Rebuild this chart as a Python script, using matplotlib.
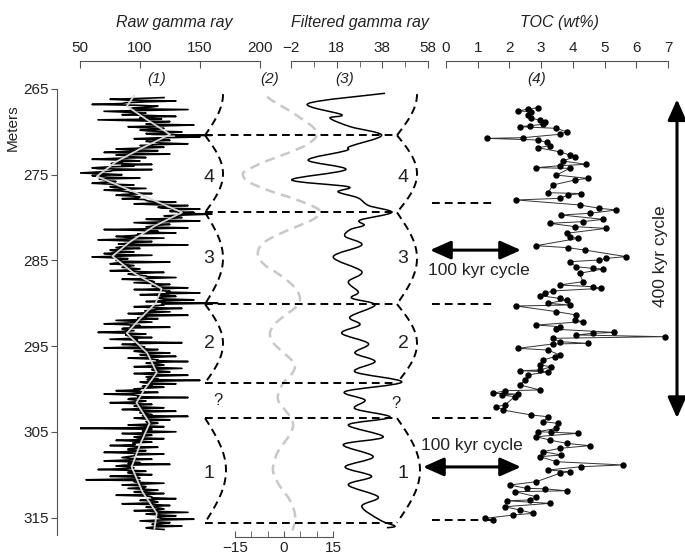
import numpy as np
import matplotlib
matplotlib.use('Agg')
import matplotlib.pyplot as plt
from matplotlib.path import Path
from matplotlib.patches import PathPatch

plt.rcParams['font.family'] = ['Liberation Sans', 'DejaVu Sans']

# ---------------- data ----------------
depth_ticks = [265, 275, 285, 295, 305, 315]

raw_start, raw_step = 266.0, 0.2
# samples at 266.0, 266.2, ...
raw_gamma = [
    120, 75, 130, 88, 60, 115, 95, 140, 70, 105,
    85, 130, 100, 65, 125, 110, 145, 90, 120, 100,
    135, 105, 160, 150, 95, 125, 110, 140, 100, 120,
    80, 115, 70, 125, 90, 105, 60, 100, 85, 110,
    95, 60, 110, 75, 50, 85, 65, 100, 70, 80,
    60, 95, 75, 105, 70, 90, 110, 80, 100, 85,
    105, 130, 95, 140, 115, 150, 125, 145, 160, 120,
    135, 105, 150, 95, 125, 110, 140, 70, 115, 130,
    100, 80, 120, 65, 110, 90, 140, 85, 100, 75,
    95, 70, 110, 60, 90, 80, 125, 75, 95, 85,
    100, 75, 120, 90, 105, 130, 85, 110, 95, 125,
    110, 140, 95, 125, 150, 100, 130, 115, 145, 105,
    165, 120, 95, 135, 110, 125, 90, 140, 105, 115,
    80, 110, 70, 100, 125, 85, 95, 65, 105, 90,
    110, 75, 95, 135, 85, 100, 70, 115, 95, 125,
    100, 130, 90, 115, 140, 105, 120, 95, 135, 110,
    125, 95, 140, 105, 115, 150, 100, 130, 110, 120,
    95, 80, 115, 70, 100, 140, 90, 105, 75, 110,
    95, 120, 85, 130, 100, 110, 140, 95, 125, 105,
    115, 90, 120, 50, 105, 130, 85, 110, 95, 120,
    80, 110, 95, 75, 115, 90, 105, 70, 120, 95,
    85, 110, 70, 100, 125, 80, 95, 65, 105, 90,
    110, 75, 100, 55, 95, 120, 85, 105, 90, 115,
    95, 120, 80, 110, 130, 100, 115, 85, 125, 105,
    120, 95, 140, 105, 130, 115, 145, 100, 125, 110,
    135, 105, 120,
]
# samples at the midpoints 266.1, 266.3, ...
raw_gamma_mid = [
    100, 90, 105, 85, 98, 110, 92, 104, 88, 100,
    110, 100, 118, 95, 112, 105, 120, 100, 115, 108,
    125, 110, 130, 115, 120, 105, 118, 112, 108, 100,
    95, 85, 100, 80, 92, 78, 88, 82, 76, 85,
    72, 65, 78, 62, 70, 60, 74, 66, 72, 68,
    75, 82, 78, 88, 84, 92, 86, 95, 98, 104,
    108, 115, 112, 122, 118, 128, 125, 132, 138, 130,
    125, 118, 120, 110, 115, 105, 112, 100, 104, 98,
    95, 88, 92, 85, 96, 82, 90, 80, 84, 78,
    80, 76, 84, 78, 82, 86, 80, 88, 90, 92,
    94, 98, 102, 96, 106, 108, 104, 112, 110, 116,
    114, 120, 116, 122, 118, 124, 115, 120, 118, 122,
    118, 112, 108, 114, 104, 108, 100, 104, 98, 102,
    95, 90, 88, 92, 86, 90, 84, 92, 88, 94,
    92, 98, 96, 102, 98, 104, 100, 106, 102, 108,
    106, 112, 108, 114, 110, 116, 112, 114, 110, 116,
    112, 108, 114, 110, 106, 112, 104, 108, 102, 106,
    100, 96, 98, 94, 98, 92, 96, 100, 94, 98,
    102, 98, 104, 100, 106, 102, 108, 104, 110, 106,
    108, 104, 106, 110, 102, 106, 100, 104, 98, 102,
    98, 94, 96, 92, 98, 90, 94, 92, 96, 90,
    92, 88, 94, 90, 86, 92, 88, 94, 90, 96,
    94, 98, 96, 100, 98, 102, 100, 104, 102, 106,
    104, 108, 106, 110, 108, 112, 110, 114, 112, 116,
    114, 118, 112, 116, 114, 118, 116, 112, 118, 114,
    112, 110,
]

trend_depth = [265.8, 267, 268.5, 270.3, 272, 273.5, 275.2, 277, 279.4, 281, 282.8,
               284.5, 286.5, 288.3, 290, 291.8, 293.5, 295.8, 298.1, 300, 301.6, 304,
               306.5, 309.1, 312, 314.5, 316.3]
trend_val = [95, 89, 105, 125, 100, 80, 64, 95, 135, 112, 92, 77, 95, 118, 113, 100,
             89, 106, 114, 104, 97, 108, 100, 93, 102, 114, 112]

filt2_depth = [265.9, 266.5, 267.5, 268.5, 269.5, 270.4, 271.5, 272.5, 273.5, 274.5, 275.0,
               275.8, 276.8, 277.8, 278.8, 279.4, 280.2, 281.2, 282.2, 283.2, 284.4, 285.5,
               286.5, 287.5, 288.5, 289.6, 290.5, 291.5, 292.5, 293.5, 294.5, 295.5, 296.5,
               297.2, 298.2, 299.2, 300.2, 301.3, 302.3, 303.3, 304.2, 305.2, 306.3, 307.4,
               308.5, 309.5, 310.5, 311.5, 312.5, 313.5, 314.5, 315.2, 316.0, 316.5]
filt2_val = [-5.2, -3, 1.5, 5.5, 9, 10.1, 7, 1, -6, -11.5, -12.6, -11, -5, 3, 9.5, 11, 9, 3,
             -3, -7, -8, -6, -2, 1.5, 4, 4.9, 3.5, 0, -3, -4.3, -3.5, -1, 2, 3.4, 2.5, 0,
             -1.5, -1.8, 0, 2, 2.8, 2, 0, -2, -3, -3.4, -2.5, -1, 1, 2.5, 3.3, 3.4, 3, 2.6]

filt3_depth = [265.5, 266.7, 268.0, 268.4, 269.4, 270.4, 271.7, 272.2, 273.3, 274.4, 275.6,
               276.4, 277.0, 277.7, 278.6, 279.4, 280.3, 280.9, 281.4, 282.2, 283.2, 284.6,
               286.3, 287.5, 288.7, 289.4, 290.2, 291.6, 292.5, 293.5, 294.7, 295.8, 296.8,
               298.0, 299.2, 300.3, 301.3, 302.3, 303.3, 304.2, 305.6, 306.5, 307.9, 309.1,
               310.2, 311.2, 312.6, 313.7, 315.3, 316.0, 316.2]
filt3_val = [39.2, 5.5, 20.2, 15.1, 24, 37.7, 23.8, 22, 5.5, 22, -1.7, 23, 18.6, 27.3, 32,
             42.1, 28.2, 30, 24, 21.7, 29, 16.5, 29, 23.1, 27.5, 24.6, 34.8, 23.8, 28.2, 20.2,
             31.9, 26, 34.8, 26, 46.5, 21.7, 30.4, 26, 41.4, 23.1, 38.4, 20.9, 34, 21.7, 33.3,
             23.1, 36.2, 29, 37, 43.5, 40]

toc_depth = [267.18, 267.33, 267.57, 267.64, 268.03, 268.42, 268.62, 268.89, 269.12, 269.28,
             269.40, 269.59, 269.98, 270.29, 270.68, 270.76, 270.95, 271.22, 271.62, 271.85,
             272.32, 272.70, 272.90, 273.40, 273.79, 273.95, 274.18, 274.26, 275.04, 275.43,
             275.62, 276.20, 277.10, 277.20, 277.37, 277.76, 277.95, 278.53, 278.92, 279.12,
             279.51, 279.70, 280.21, 280.48, 280.67, 281.06, 281.26, 281.84, 282.23, 282.43,
             283.28, 283.52, 283.79, 284.56, 284.76, 284.95, 285.15, 285.74, 285.93, 286.00,
             286.51, 287.48, 287.87, 288.07, 288.26, 288.57, 288.84, 289.11, 289.43, 289.62,
             290.01, 290.20, 290.32, 290.98, 291.37, 291.95, 292.15, 292.54, 292.73, 293.04,
             293.40, 293.51, 293.70, 293.90, 294.09, 294.48, 294.68, 294.75, 295.26, 295.46,
             296.04, 296.24, 296.62, 297.21, 297.40, 297.79, 297.87, 297.99, 298.37, 298.96,
             299.54, 300.12, 300.20, 300.51, 300.60, 300.71, 300.90, 301.87, 302.07, 302.46,
             303.04, 303.24, 303.82, 304.01, 304.60, 304.99, 305.05, 305.18, 305.57, 305.96,
             306.35, 306.62, 306.93, 307.32, 307.71, 307.90, 308.49, 308.87, 309.07, 309.46,
             309.66, 309.85, 310.82, 311.21, 311.60, 311.65, 311.88, 311.99, 312.58, 312.96,
             313.04, 313.35, 313.74, 314.13, 314.51, 314.71, 315.10, 315.29]
toc_val = [2.90, 2.59, 2.27, 2.69, 2.59, 2.69, 2.96, 3.11, 3.06, 2.64,
           2.33, 3.48, 3.80, 3.58, 2.43, 1.28, 2.90, 3.17, 3.27, 2.90,
           3.58, 3.90, 4.06, 3.69, 4.42, 3.58, 2.85, 3.90, 3.48, 4.47,
           4.06, 3.37, 3.22, 4.27, 3.85, 3.58, 2.22, 4.21, 4.84, 5.37,
           4.53, 3.64, 4.95, 4.32, 3.27, 4.06, 5.05, 3.80, 3.90, 4.16,
           2.85, 3.85, 4.37, 5.68, 5.05, 4.84, 3.90, 4.11, 4.63, 4.95,
           4.21, 4.32, 3.58, 4.63, 4.90, 3.37, 3.11, 2.96, 3.58, 3.80,
           3.22, 3.90, 2.22, 3.48, 4.11, 4.06, 4.32, 2.85, 3.58, 3.48,
           5.31, 4.63, 4.11, 6.89, 3.37, 3.58, 4.47, 3.37, 2.27, 3.22,
           3.58, 3.43, 3.06, 2.96, 3.32, 2.96, 2.33, 3.22, 2.59, 2.48,
           2.33, 2.96, 1.86, 1.49, 2.27, 1.75, 2.17, 1.86, 1.59, 1.80,
           2.69, 3.22, 3.06, 3.53, 3.48, 2.90, 3.32, 4.16, 2.85, 3.27,
           3.80, 4.53, 3.58, 3.06, 3.64, 2.96, 3.48, 5.58, 4.27, 3.22,
           3.90, 3.58, 2.85, 2.01, 2.54, 3.11, 3.80, 2.17, 2.85, 2.64,
           1.91, 3.27, 1.86, 2.33, 2.75, 2.12, 1.23, 1.49]

# cycle boundaries (m)
boundaries = [270.4, 279.4, 290.1, 299.3, 303.4, 315.6]
toc_marks = [278.3, 290.1, 303.4, 315.3]
cycle_labels = [('4', 275.3), ('3', 284.8), ('2', 294.7), ('1', 309.9)]

# ---------------- layout ----------------
W, H = 685, 556
fig = plt.figure(figsize=(W / 100, H / 100), dpi=100)
Y_TOP_PX, Y_BOT_PX = 61, 537
PX_PER_M = 8.57
D_TOP = 265 + (Y_TOP_PX - 89) / PX_PER_M
D_BOT = 265 + (Y_BOT_PX - 89) / PX_PER_M
AXC = '#555555'
TXT = '#222222'


def add_ax(x0, x1):
    ax = fig.add_axes([x0 / W, 1 - Y_BOT_PX / H, (x1 - x0) / W, (Y_BOT_PX - Y_TOP_PX) / H])
    ax.set_ylim(D_BOT, D_TOP)
    ax.patch.set_alpha(0)
    for s in ax.spines.values():
        s.set_visible(False)
        s.set_color(AXC)
    ax.set_yticks([])
    return ax


def top_axis(ax, xlim, major, minor=None):
    ax.set_xlim(*xlim)
    ax.spines['top'].set_visible(True)
    ax.xaxis.set_ticks_position('top')
    ax.set_xticks(major)
    if minor is not None:
        ax.set_xticks(minor, minor=True)
    ax.tick_params(axis='x', which='both', direction='in', colors=AXC, labelcolor=TXT,
                   labelsize=11, pad=4, top=True, bottom=False, labeltop=True, labelbottom=False)
    ax.tick_params(axis='x', which='major', length=5)
    ax.tick_params(axis='x', which='minor', length=4)


def smooth_curve(ax, xs, ys, **kw):
    pts = np.column_stack([xs, ys]).astype(float)
    verts, codes = [pts[0]], [Path.MOVETO]
    n = len(pts)
    for i in range(n - 1):
        p0 = pts[i - 1] if i > 0 else pts[i]
        p1, p2 = pts[i], pts[i + 1]
        p3 = pts[i + 2] if i + 2 < n else pts[i + 1]
        verts += [p1 + (p2 - p0) / 6, p2 - (p3 - p1) / 6, p2]
        codes += [Path.CURVE4] * 3
    ax.add_patch(PathPatch(Path(verts, codes), fill=False, **kw))


# depth axis
axd = add_ax(57, 58)
axd.spines['left'].set_visible(True)
axd.spines['left'].set_bounds(265, 317)
axd.set_yticks(depth_ticks)
axd.set_xticks([])
axd.tick_params(axis='y', direction='out', length=4, colors=AXC, labelcolor=TXT,
                labelsize=11, pad=2)

# raw gamma ray
axr = add_ax(80, 260)
top_axis(axr, (50, 200), [50, 100, 150, 200])
n_mid = len(raw_gamma_mid)
raw_all = np.empty(len(raw_gamma) + n_mid)
raw_all[0::2][:len(raw_gamma)] = raw_gamma
raw_all[1::2][:n_mid] = raw_gamma_mid
raw_depth = raw_start + raw_step / 2 * np.arange(len(raw_all))
axr.plot(raw_all, raw_depth, color='black', lw=1.2)
axr.plot(trend_val, trend_depth, color='#d8d8d8', lw=1.3)

# filtered (2)
axc = add_ax(235, 333)
axc.set_xlim(-15, 15)
axc.spines['bottom'].set_visible(True)
axc.set_xticks([-15, 0, 15])
axc.set_xticks([-10, -5, 5, 10], minor=True)
axc.tick_params(axis='x', which='both', direction='in', length=4, colors=AXC,
                labelcolor=TXT, labelsize=11, pad=3)
smooth_curve(axc, filt2_val, filt2_depth, ec='#c8c8c8', lw=1.8, ls=(0, (4, 2.5)))

# filtered gamma ray (3)
axf = add_ax(291, 428)
top_axis(axf, (-2, 58), [-2, 18, 38, 58], [8, 28, 48])
smooth_curve(axf, filt3_val, filt3_depth, ec='black', lw=1.1)

# TOC
axt = add_ax(446, 668)
top_axis(axt, (0, 7), list(range(8)))
axt.plot(toc_val, toc_depth, color='#333333', lw=0.7, marker='o', ms=3.6,
         mfc='black', mec='black')

# ---------------- overlay (annotations) ----------------
axo = add_ax(0, W)
axo.set_xlim(0, W)
axo.set_xticks([])
axo.set_zorder(10)

dash = (0, (4, 2.6))


def arc(x0, bulge, d0, d1, t0=0.0, t1=1.0):
    t = np.linspace(t0, t1, 60)
    axo.plot(x0 + bulge * np.sin(np.pi * t), d0 + (d1 - d0) * t,
             color='black', lw=1.4, ls=dash)


for x0, bul in [(205, 18), (397, 20)]:
    arc(x0, bul, 270.4 - 2 * (270.4 - 265.6), 270.4, 0.5, 1.0)
    arc(x0, bul, boundaries[0], boundaries[1])
    arc(x0, bul, boundaries[1], boundaries[2])
    arc(x0, bul, boundaries[2], boundaries[3])
    arc(x0, bul + 3, boundaries[4], boundaries[5])

for b in boundaries:
    axo.plot([205, 397], [b, b], color='black', lw=1.4, ls=dash)
for b in toc_marks:
    axo.plot([432, 496], [b, b], color='black', lw=1.4, ls=dash)

for lab, d in cycle_labels:
    axo.text(209, d, lab, fontsize=14, ha='center', va='center', color=TXT)
    axo.text(403, d, lab, fontsize=14, ha='center', va='center', color=TXT)
axo.text(218, 301.4, '?', fontsize=12, ha='center', va='center', color=TXT)
axo.text(396, 301.7, '?', fontsize=12, ha='center', va='center', color=TXT)

aprops = dict(arrowstyle='<|-|>,head_length=0.9,head_width=0.4', color='black',
              lw=2.2, mutation_scale=14, shrinkA=0, shrinkB=0)
axo.annotate('', xy=(521, 283.8), xytext=(430, 283.8), arrowprops=aprops)
axo.text(479, 286.2, '100 kyr cycle', fontsize=12.5, ha='center', va='center', color=TXT)
axo.annotate('', xy=(521, 309.1), xytext=(423, 309.1), arrowprops=aprops)
axo.text(472, 306.6, '100 kyr cycle', fontsize=12.5, ha='center', va='center', color=TXT)
axo.annotate('', xy=(677, 266.2), xytext=(677, 303.4), arrowprops=aprops)
axo.text(661, 284.5, '400 kyr cycle', fontsize=12.5, ha='center', va='center',
         rotation=90, color=TXT)


# ---------------- titles ----------------
def ftext(x, y, s, **kw):
    fig.text(x / W, 1 - y / H, s, ha='center', va='center', color=TXT, **kw)


ftext(174, 23, 'Raw gamma ray', fontsize=11.5, style='italic')
ftext(360, 23, 'Filtered gamma ray', fontsize=11.5, style='italic')
ftext(560, 23, 'TOC (wt%)', fontsize=11.5, style='italic')
ftext(157, 79, '(1)', fontsize=11, style='italic')
ftext(270, 79, '(2)', fontsize=11, style='italic')
ftext(345, 79, '(3)', fontsize=11, style='italic')
ftext(537, 79, '(4)', fontsize=11, style='italic')
ftext(13, 128, 'Meters', fontsize=11, rotation=90)

fig.savefig('out.png', dpi=100)
